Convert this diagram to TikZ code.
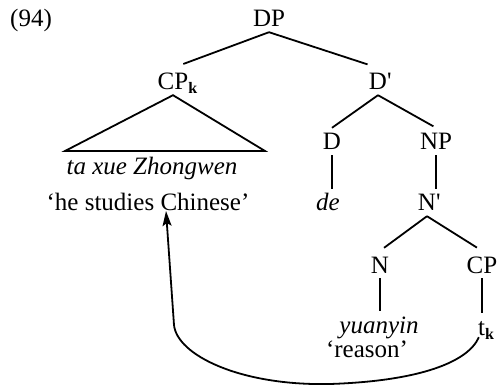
\documentclass[tikz,border=0pt]{standalone}
\usepackage{fontspec}
\setmainfont{Liberation Serif}
\usetikzlibrary{arrows.meta}
% lowered index letter and bar-level tick
\newcommand\lowk{\raisebox{-4pt}{\fontsize{16}{16}\selectfont\bfseries k}}
\newcommand\bartick{\textquotesingle}
\begin{document}
\begin{tikzpicture}[x=1pt,y=-1pt,
  lbl/.style={inner sep=0pt, text height=22pt, text depth=5pt, anchor=base,
              font=\fontsize{25}{30}\selectfont},
  branch/.style={line width=1.8pt},
  move/.style={line width=1.8pt, -{Stealth[length=15pt,width=9pt,inset=3pt]}}]
\useasboundingbox (0,0) rectangle (497,387);

% labels
\node[lbl, anchor=base west] (ex) at (10,27) {(94)};
\node[lbl] (dp)   at (269,27)  {DP};
\node[lbl] (cpk)  at (173,90)  {CP\rlap{\lowk}};
\node[lbl] (dbar) at (378,90)  {D\rlap{\bartick}};
\node[lbl] (d)    at (332,150) {D};
\node[lbl] (np)   at (436,150) {NP};
\node[lbl] (txz)  at (152,175) {\itshape ta xue Zhongwen};
\node[lbl] (gl)   at (148,211) {‘he studies Chinese’};
\node[lbl] (de)   at (328,211) {\itshape de};
\node[lbl] (nbar) at (427,211) {N\rlap{\bartick}};
\node[lbl] (n)    at (380,273) {N};
\node[lbl] (cp)   at (482,273) {CP};
\node[lbl] (yy)   at (379,333) {\itshape yuanyin};
\node[lbl] (tk)   at (486,335) {t\lowk};
\node[lbl] (rs)   at (367,357) {‘reason’};

% triangle base corners and arrow target
\coordinate (tl) at (65,151);
\coordinate (tr) at (265,151);
\coordinate (tip) at (166,211);

% branches
\draw[branch, shorten >=11pt] (dp.south) -- (cpk.north);
\draw[branch, shorten >=11pt] (dp.south) -- (dbar.north);
\draw[branch, line join=miter] (cpk.south) -- (tr) -- (tl) -- cycle;
\draw[branch] (dbar.south) -- (d.north);
\draw[branch, shorten >=3pt] (dbar.south) -- (np.north);
\draw[branch] (d.south) -- (d.south |- de.north);
\draw[branch] (np.south) -- (np.south |- nbar.north);
\draw[branch, shorten >=5pt] (nbar.south) -- (n.north);
\draw[branch, shorten >=6pt] (nbar.south) -- (cp.north);
\draw[branch] (n.south) -- (n.south |- yy.north);
\draw[branch] (cp.south) -- (cp.south |- tk.north);

% movement arrow from the trace back to the clause
\draw[move] ([xshift=1pt,yshift=3pt]tk.south west) .. controls (468,362) and (420,381) .. (330,384)
  .. controls (240,386) and (177,355) .. (174,325) -- (tip);
\end{tikzpicture}
\end{document}
